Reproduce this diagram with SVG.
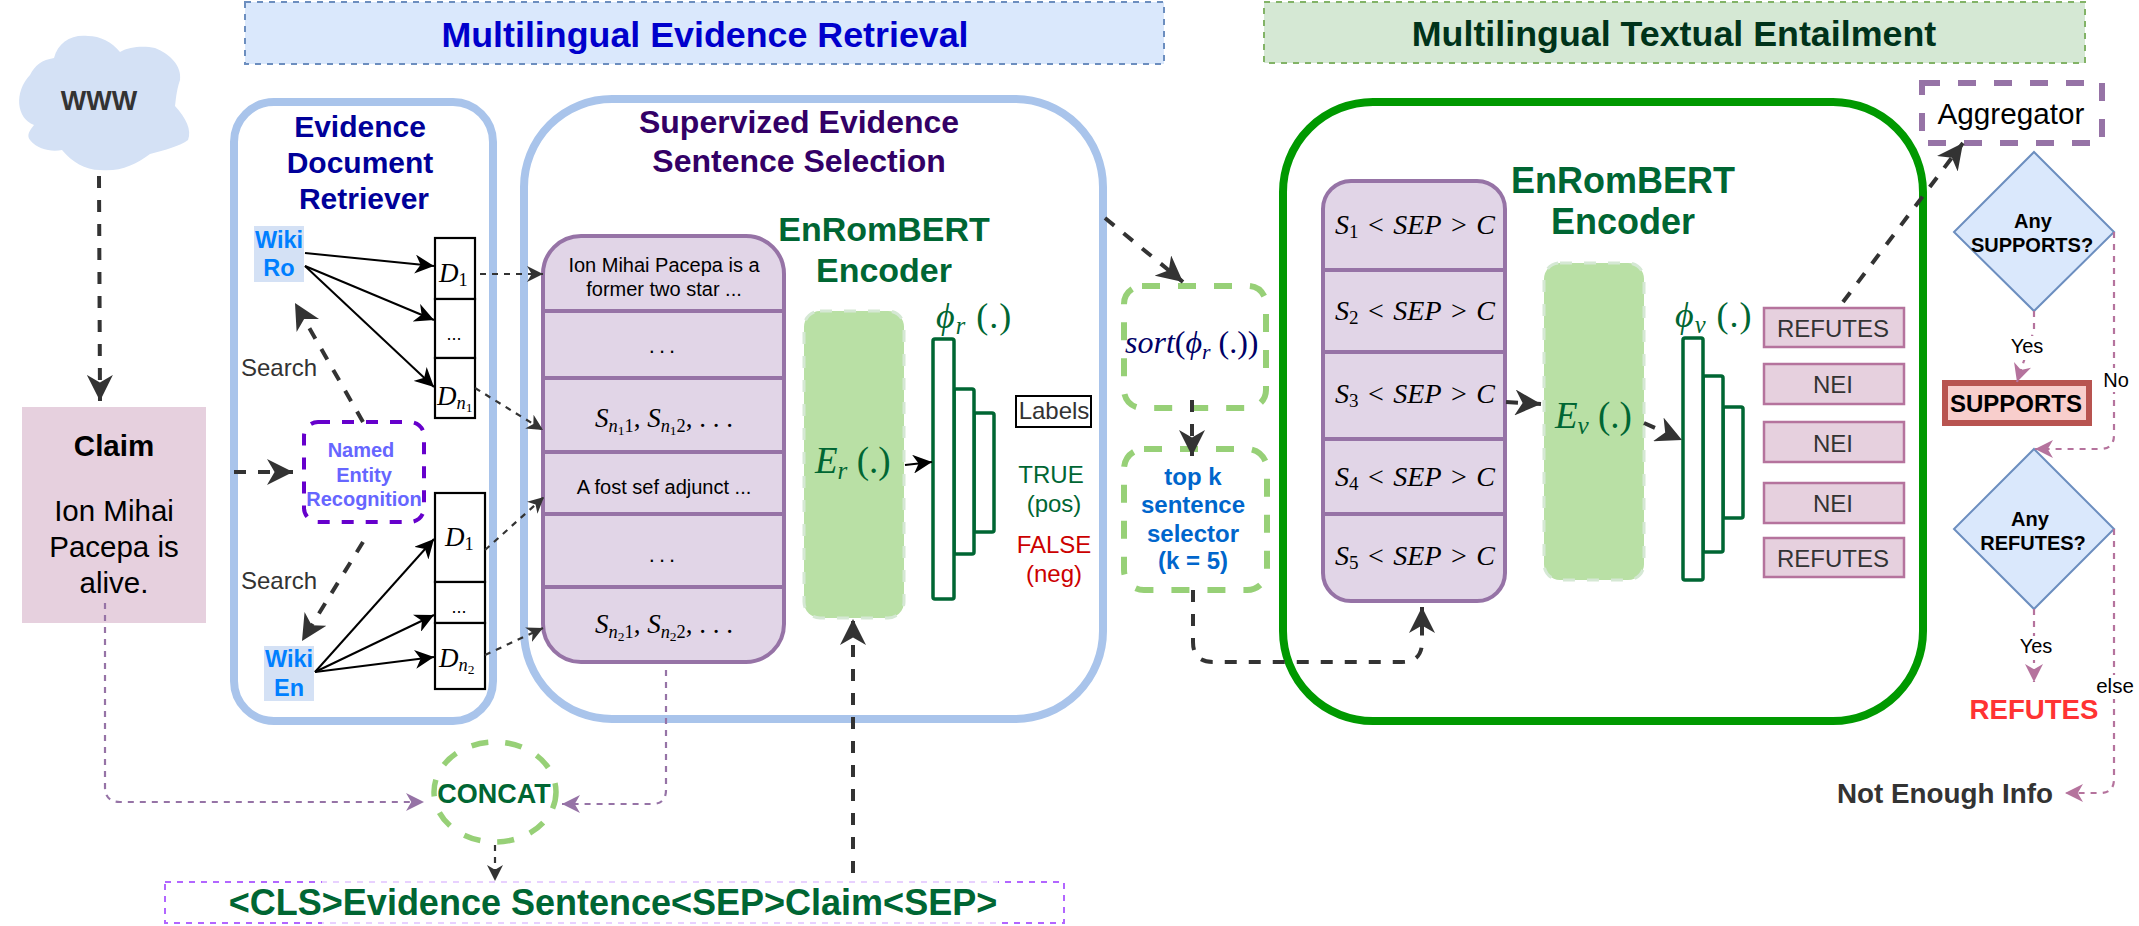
<svg xmlns="http://www.w3.org/2000/svg" width="2139" height="926" viewBox="0 0 2139 926">
<style>
text{font-family:"Liberation Sans",Arial,sans-serif;text-anchor:middle}
.b{font-weight:700}
.m{font-family:"Liberation Serif","Times New Roman",serif;text-anchor:start}
.i{font-style:italic}
.sub{font-size:.68em}
.subsub{font-size:.5em}
.pair{word-spacing:2.5px}
.dk{stroke:#333;stroke-width:4;stroke-dasharray:12 12;fill:none}
.dkt{stroke:#333;stroke-width:2.2;stroke-dasharray:6 6;fill:none}
.bk{stroke:#000;stroke-width:2;fill:none}
.pu{stroke:#9673a6;stroke-width:2.2;stroke-dasharray:6 6;fill:none}
.pi{stroke:#b5739d;stroke-width:2.2;stroke-dasharray:6 6;fill:none}
.gd{fill:#fff;stroke:#97d077;stroke-width:6;stroke-dasharray:18 18}
.enc{fill:#b9e0a5;stroke:#d5e8d4;stroke-width:3;stroke-dasharray:12 12}
.stack{fill:#e1d5e7;stroke:#9673a6;stroke-width:4}
.ln{stroke:#9673a6;stroke-width:4;fill:none}
.bar{fill:#fff;stroke:#006633;stroke-width:3.5}
.doc{fill:#fff;stroke:#000;stroke-width:2.2}
.lab{fill:#e6d0de;stroke:#b5739d;stroke-width:2.5}
.dia{fill:#dae8fc;stroke:#6c8ebf;stroke-width:2}
</style>
<defs>
<marker id="aL" markerUnits="userSpaceOnUse" markerWidth="26" markerHeight="26" viewBox="0 0 24 24" refX="24" refY="12" orient="auto"><path d="M0,0L24,12L0,24L7,12Z" fill="#333"/></marker>
<marker id="aS" markerUnits="userSpaceOnUse" markerWidth="16" markerHeight="16" viewBox="0 0 24 24" refX="24" refY="12" orient="auto"><path d="M0,0L24,12L0,24L7,12Z" fill="#333"/></marker>
<marker id="aB" markerUnits="userSpaceOnUse" markerWidth="19" markerHeight="19" viewBox="0 0 24 24" refX="24" refY="12" orient="auto"><path d="M0,0L24,12L0,24L7,12Z" fill="#000"/></marker>
<marker id="aU" markerUnits="userSpaceOnUse" markerWidth="18" markerHeight="18" viewBox="0 0 24 24" refX="24" refY="12" orient="auto"><path d="M0,0L24,12L0,24L7,12Z" fill="#9673a6"/></marker>
<marker id="aP" markerUnits="userSpaceOnUse" markerWidth="18" markerHeight="18" viewBox="0 0 24 24" refX="24" refY="12" orient="auto"><path d="M0,0L24,12L0,24L7,12Z" fill="#b5739d"/></marker>
</defs>

<g id="header-retrieval">
<rect x="245" y="2" width="919" height="62" fill="#dae8fc" stroke="#6c8ebf" stroke-width="2" stroke-dasharray="6 6"/>
<text class="b" x="705" y="47" font-size="35.8" fill="#0000cc">Multilingual Evidence Retrieval</text>
</g>
<g id="header-entailment">
<rect x="1264" y="2" width="821" height="61" fill="#d5e8d4" stroke="#82b366" stroke-width="2" stroke-dasharray="6 6"/>
<text class="b" x="1674" y="46" font-size="35.8" fill="#00331a">Multilingual Textual Entailment</text>
</g>

<g id="www">
<path d="M34,125C16,118 14,92 30,75C35,65 42,60 54,58C58,42 72,34 88,36C100,36 112,42 120,52C130,46 145,46 155,48C170,54 182,66 180,80C176,92 176,100 175,106C186,118 192,130 188,140C180,146 165,150 150,154C135,165 120,172 100,170C85,170 72,162 62,150C52,152 38,150 30,140C26,135 30,130 34,125Z" fill="#d4e1f5"/>
<text class="b" x="99" y="110" font-size="27" fill="#333">WWW</text>
</g>

<g id="claim">
<rect x="22" y="407" width="184" height="216" fill="#e6d0de"/>
<text class="b" x="114" y="456" font-size="29.5">Claim</text>
<text x="114" y="521" font-size="29.5">Ion Mihai</text>
<text x="114" y="557" font-size="29.5">Pacepa is</text>
<text x="114" y="593" font-size="29.5">alive.</text>
</g>

<g id="retriever">
<rect x="234" y="102" width="259" height="619" rx="40" fill="#fff" stroke="#a9c4eb" stroke-width="8"/>
<text class="b" x="360" y="137" font-size="30" fill="#000099">Evidence</text>
<text class="b" x="360" y="173" font-size="30" fill="#000099">Document</text>
<text class="b" x="364" y="209" font-size="30" fill="#000099">Retriever</text>
<text x="279" y="376" font-size="24" fill="#333">Search</text>
<text x="279" y="589" font-size="24" fill="#333">Search</text>
</g>

<g id="selection">
<rect x="524" y="99" width="579" height="620" rx="88" fill="#fff" stroke="#a9c4eb" stroke-width="8"/>
<text class="b" x="799" y="133" font-size="32" fill="#330066">Supervized Evidence</text>
<text class="b" x="799" y="172" font-size="32" fill="#330066">Sentence Selection</text>
<text class="b" x="884" y="241" font-size="34" fill="#006633">EnRomBERT</text>
<text class="b" x="884" y="282" font-size="34" fill="#006633">Encoder</text>
</g>

<g id="entailment">
<rect x="1283" y="102" width="640" height="619" rx="90" fill="#fff" stroke="#009900" stroke-width="8"/>
<text class="b" x="1623" y="193" font-size="36" fill="#006633">EnRomBERT</text>
<text class="b" x="1623" y="234" font-size="36" fill="#006633">Encoder</text>
</g>

<g id="wiki-ro">
<rect x="254" y="226" width="50" height="56" fill="#d4e1f5"/>
<text class="b" x="279" y="248" font-size="23.5" fill="#007fff">Wiki</text>
<text class="b" x="279" y="276" font-size="23.5" fill="#007fff">Ro</text>
</g>
<g id="wiki-en">
<rect x="264" y="646" width="50" height="55" fill="#d4e1f5"/>
<text class="b" x="289" y="667" font-size="23.5" fill="#007fff">Wiki</text>
<text class="b" x="289" y="696" font-size="23.5" fill="#007fff">En</text>
</g>

<g id="docs-ro">
<rect class="doc" x="435" y="238" width="40" height="61"/>
<rect class="doc" x="435" y="299" width="40" height="59"/>
<rect class="doc" x="435" y="358" width="40" height="60"/>
<text class="m" x="439" y="282" font-size="27"><tspan class="i">D</tspan><tspan class="sub" dy="4">1</tspan></text>
<text x="454" y="340" font-size="18">...</text>
<text class="m" x="437" y="405" font-size="27"><tspan class="i">D</tspan><tspan class="sub i" dy="4">n</tspan><tspan class="subsub" dy="3">1</tspan></text>
</g>
<g id="docs-en">
<rect class="doc" x="435" y="493" width="50" height="89"/>
<rect class="doc" x="435" y="582" width="50" height="41"/>
<rect class="doc" x="435" y="623" width="50" height="66"/>
<text class="m" x="445" y="546" font-size="27"><tspan class="i">D</tspan><tspan class="sub" dy="4">1</tspan></text>
<text x="459" y="613" font-size="18">...</text>
<text class="m" x="439" y="667" font-size="27"><tspan class="i">D</tspan><tspan class="sub i" dy="4">n</tspan><tspan class="subsub" dy="3">2</tspan></text>
</g>

<g id="ner">
<rect x="304" y="422" width="120" height="100" rx="14" fill="#fff" stroke="#6600cc" stroke-width="4" stroke-dasharray="12 12"/>
<text class="b" x="361" y="457" font-size="20" fill="#6666ff">Named</text>
<text class="b" x="364" y="482" font-size="20" fill="#6666ff">Entity</text>
<text class="b" x="364" y="506" font-size="20" fill="#6666ff">Recognition</text>
</g>

<g id="sentences">
<rect class="stack" x="543" y="236" width="241" height="426" rx="38"/>
<path class="ln" d="M543,311H784M543,378H784M543,452H784M543,514H784M543,587H784"/>
<text x="664" y="272" font-size="20">Ion Mihai Pacepa is a</text>
<text x="664" y="296" font-size="20">former two star ...</text>
<text x="664" y="353" font-size="22" font-family="Liberation Serif" letter-spacing="4">...</text>
<text class="m" x="595" y="427" font-size="27"><tspan class="i">S</tspan><tspan class="sub i" dy="5">n</tspan><tspan class="subsub" dy="3">1</tspan><tspan class="sub" dy="-3">1</tspan><tspan dy="-5">, </tspan><tspan class="i">S</tspan><tspan class="sub i" dy="5">n</tspan><tspan class="subsub" dy="3">1</tspan><tspan class="sub" dy="-3">2</tspan><tspan dy="-5">, . . .</tspan></text>
<text x="664" y="494" font-size="20">A fost sef adjunct ...</text>
<text x="664" y="562" font-size="22" font-family="Liberation Serif" letter-spacing="4">...</text>
<text class="m" x="595" y="633" font-size="27"><tspan class="i">S</tspan><tspan class="sub i" dy="5">n</tspan><tspan class="subsub" dy="3">2</tspan><tspan class="sub" dy="-3">1</tspan><tspan dy="-5">, </tspan><tspan class="i">S</tspan><tspan class="sub i" dy="5">n</tspan><tspan class="subsub" dy="3">2</tspan><tspan class="sub" dy="-3">2</tspan><tspan dy="-5">, . . .</tspan></text>
</g>

<g id="encoder-r">
<rect class="enc" x="804" y="311" width="100" height="307" rx="16"/>
<text class="m" x="815" y="473" font-size="37" fill="#006633"><tspan class="i">E</tspan><tspan class="sub i" dy="6">r</tspan><tspan dy="-6"> (.)</tspan></text>
</g>
<g id="bars-r">
<rect class="bar" x="974" y="413" width="20" height="119" rx="2"/>
<rect class="bar" x="954" y="389" width="20" height="165" rx="2"/>
<rect class="bar" x="933" y="339" width="21" height="260" rx="2"/>
<text class="m" x="936" y="328" font-size="36" fill="#006633" letter-spacing="1"><tspan class="i">ϕ</tspan><tspan class="sub i" dy="6">r</tspan><tspan dy="-6"> (.)</tspan></text>
</g>
<g id="labels">
<rect x="1016" y="396" width="75" height="31" fill="#fff" stroke="#000" stroke-width="2"/>
<text x="1054" y="419" font-size="24" fill="#333">Labels</text>
<text x="1051" y="483" font-size="24" fill="#006633">TRUE</text>
<text x="1054" y="512" font-size="24" fill="#006633">(pos)</text>
<text x="1054" y="553" font-size="24" fill="#cc0000">FALSE</text>
<text x="1054" y="582" font-size="24" fill="#cc0000">(neg)</text>
</g>

<g id="concat">
<ellipse cx="495" cy="792" rx="61" ry="50" fill="#fff" stroke="#97d077" stroke-width="5.5" stroke-dasharray="17 17"/>
<text class="b" x="494" y="803" font-size="27" fill="#006633">CONCAT</text>
</g>
<g id="input">
<rect x="165" y="882" width="899" height="41" fill="#fff" stroke="#b266ff" stroke-width="2" stroke-dasharray="6 6"/>
<rect x="322" y="879" width="676" height="47" fill="#fff" opacity=".7"/>
<text class="b" x="613" y="915" font-size="36" fill="#006633">&lt;CLS&gt;Evidence Sentence&lt;SEP&gt;Claim&lt;SEP&gt;</text>
</g>

<g id="sort">
<rect class="gd" x="1124" y="286" width="142" height="122" rx="18"/>
<text class="m" x="1125" y="353" font-size="32" fill="#000066"><tspan class="i">sort</tspan>(<tspan class="i">ϕ</tspan><tspan class="sub i" dy="6">r</tspan><tspan dy="-6"> (.))</tspan></text>
</g>
<g id="topk">
<rect class="gd" x="1124" y="449" width="143" height="141" rx="20"/>
<text class="b" x="1193" y="485" font-size="24" fill="#0066cc">top k</text>
<text class="b" x="1193" y="513" font-size="24" fill="#0066cc">sentence</text>
<text class="b" x="1193" y="542" font-size="24" fill="#0066cc">selector</text>
<text class="b" x="1193" y="569" font-size="24" fill="#0066cc">(k = 5)</text>
</g>

<g id="pairs">
<rect class="stack" x="1323" y="181" width="182" height="420" rx="28"/>
<path class="ln" d="M1323,270H1505M1323,352H1505M1323,439H1505M1323,514H1505"/>
<text class="m pair" x="1335" y="234" font-size="28"><tspan class="i">S</tspan><tspan class="sub" dy="4">1</tspan><tspan dy="-4"> &lt; </tspan><tspan class="i">SEP</tspan> &gt; <tspan class="i">C</tspan></text>
<text class="m pair" x="1335" y="320" font-size="28"><tspan class="i">S</tspan><tspan class="sub" dy="4">2</tspan><tspan dy="-4"> &lt; </tspan><tspan class="i">SEP</tspan> &gt; <tspan class="i">C</tspan></text>
<text class="m pair" x="1335" y="403" font-size="28"><tspan class="i">S</tspan><tspan class="sub" dy="4">3</tspan><tspan dy="-4"> &lt; </tspan><tspan class="i">SEP</tspan> &gt; <tspan class="i">C</tspan></text>
<text class="m pair" x="1335" y="486" font-size="28"><tspan class="i">S</tspan><tspan class="sub" dy="4">4</tspan><tspan dy="-4"> &lt; </tspan><tspan class="i">SEP</tspan> &gt; <tspan class="i">C</tspan></text>
<text class="m pair" x="1335" y="565" font-size="28"><tspan class="i">S</tspan><tspan class="sub" dy="4">5</tspan><tspan dy="-4"> &lt; </tspan><tspan class="i">SEP</tspan> &gt; <tspan class="i">C</tspan></text>
</g>

<g id="encoder-v">
<rect class="enc" x="1544" y="263" width="100" height="317" rx="16"/>
<text class="m" x="1555" y="428" font-size="37" fill="#006633"><tspan class="i">E</tspan><tspan class="sub i" dy="6">v</tspan><tspan dy="-6"> (.)</tspan></text>
</g>
<g id="bars-v">
<rect class="bar" x="1723" y="407" width="20" height="111" rx="2"/>
<rect class="bar" x="1703" y="376" width="20" height="176" rx="2"/>
<rect class="bar" x="1683" y="338" width="20" height="242" rx="2"/>
<text class="m" x="1675" y="327" font-size="36" fill="#006633" letter-spacing="1"><tspan class="i">ϕ</tspan><tspan class="sub i" dy="6">v</tspan><tspan dy="-6"> (.)</tspan></text>
</g>
<g id="verdicts">
<rect class="lab" x="1764" y="308" width="140" height="39"/><text x="1833" y="337" font-size="24" fill="#333">REFUTES</text>
<rect class="lab" x="1764" y="364" width="140" height="40"/><text x="1833" y="393" font-size="24" fill="#333">NEI</text>
<rect class="lab" x="1764" y="422" width="140" height="40"/><text x="1833" y="452" font-size="24" fill="#333">NEI</text>
<rect class="lab" x="1764" y="483" width="140" height="40"/><text x="1833" y="512" font-size="24" fill="#333">NEI</text>
<rect class="lab" x="1764" y="538" width="140" height="39"/><text x="1833" y="567" font-size="24" fill="#333">REFUTES</text>
</g>

<g id="aggregator">
<rect x="1922" y="83" width="180" height="60" fill="#fff" stroke="#9673a6" stroke-width="6" stroke-dasharray="18 18"/>
<text x="2011" y="124" font-size="29.7">Aggregator</text>
</g>
<g id="any-supports">
<path class="dia" d="M2034,152L2114,232L2034,311L1954,232Z"/>
<text class="b" x="2033" y="228" font-size="20">Any</text>
<text class="b" x="2032" y="252" font-size="20">SUPPORTS?</text>
</g>
<g id="supports">
<rect x="1945" y="383" width="144" height="40" fill="#f8cecc" stroke="#b85450" stroke-width="6"/>
<text class="b" x="2016" y="412" font-size="24">SUPPORTS</text>
</g>
<g id="any-refutes">
<path class="dia" d="M2034,449L2114,529L2034,609L1954,529Z"/>
<text class="b" x="2030" y="526" font-size="20">Any</text>
<text class="b" x="2033" y="550" font-size="20">REFUTES?</text>
</g>
<g id="refutes"><text class="b" x="2034" y="719" font-size="27.6" fill="#ff3333">REFUTES</text></g>
<g id="nei"><text class="b" x="1945" y="803" font-size="27.8" fill="#333">Not Enough Info</text></g>

<g id="connectors">
<path class="dk" marker-end="url(#aL)" d="M99,176L100,401"/>
<path class="dk" marker-end="url(#aL)" d="M234,472L293,472"/>
<path class="dk" marker-end="url(#aL)" d="M363,422L295,303"/>
<path class="dk" marker-end="url(#aL)" d="M363,542L302,641"/>
<path class="bk" marker-end="url(#aB)" d="M305,253L434,266"/>
<path class="bk" marker-end="url(#aB)" d="M305,266L434,320"/>
<path class="bk" marker-end="url(#aB)" d="M305,266L434,387"/>
<path class="bk" marker-end="url(#aB)" d="M315,672L434,539"/>
<path class="bk" marker-end="url(#aB)" d="M315,672L434,615"/>
<path class="bk" marker-end="url(#aB)" d="M315,672L434,657"/>
<path class="dkt" marker-end="url(#aS)" d="M480,274L543,274"/>
<path class="dkt" marker-end="url(#aS)" d="M475,388L543,430"/>
<path class="dkt" marker-end="url(#aS)" d="M485,550L544,497"/>
<path class="dkt" marker-end="url(#aS)" d="M485,655L543,628"/>
<path class="pu" marker-end="url(#aU)" d="M105,603V787Q105,802 120,802H424"/>
<path class="pu" marker-end="url(#aU)" d="M666,670V790Q666,804 652,804H562"/>
<path class="dk" marker-end="url(#aL)" d="M853,873V619"/>
<path class="dkt" marker-end="url(#aS)" d="M495,845V881" stroke-width="3"/>
<path class="bk" marker-end="url(#aB)" d="M905,465L932,462"/>
<path class="dk" marker-end="url(#aL)" d="M1105,218L1183,282"/>
<path class="dk" marker-end="url(#aL)" d="M1192,400V456"/>
<path class="dk" marker-end="url(#aL)" d="M1193,590V642Q1193,662 1213,662H1402Q1422,662 1422,642V607"/>
<path class="dk" marker-end="url(#aL)" d="M1506,402L1541,404"/>
<path class="dk" marker-end="url(#aL)" d="M1644,423L1682,440"/>
<path class="dk" marker-end="url(#aL)" d="M1843,302L1963,143"/>
<path class="pi" marker-end="url(#aP)" d="M2034,311V330L2017,382"/>
<path class="pi" marker-end="url(#aP)" d="M2114,232V435Q2114,449 2100,449H2035"/>
<path class="pi" marker-end="url(#aP)" d="M2034,609V682"/>
<path class="pi" marker-end="url(#aP)" d="M2114,529V779Q2114,793 2100,793H2065"/>
</g>

<g id="edge-labels">
<rect x="2008" y="336" width="38" height="24" fill="#fff"/>
<text x="2027" y="353" font-size="20">Yes</text>
<rect x="2102" y="368" width="27" height="24" fill="#fff"/>
<text x="2116" y="387" font-size="20">No</text>
<rect x="2018" y="636" width="38" height="24" fill="#fff"/>
<text x="2036" y="653" font-size="20">Yes</text>
<rect x="2096" y="675" width="40" height="24" fill="#fff"/>
<text x="2115" y="693" font-size="20.5">else</text>
</g>
</svg>
